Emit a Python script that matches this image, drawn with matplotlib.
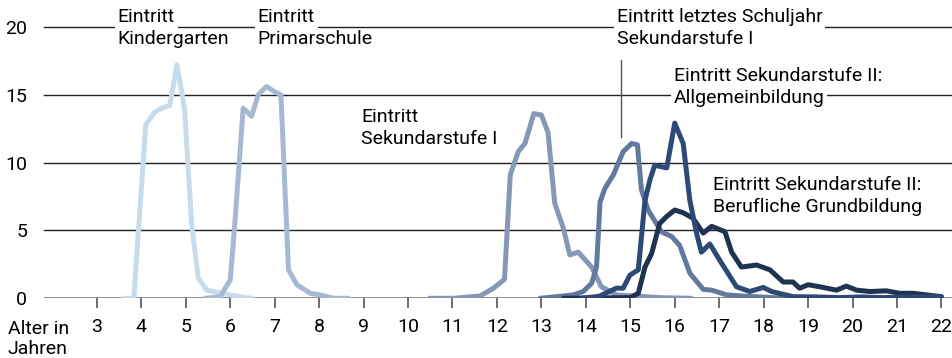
import numpy as np
import matplotlib.pyplot as plt

plt.rcParams['font.family'] = ['Roboto', 'DejaVu Sans']

# Alter (Jahre) und Anteil (%) je Übertritt
kg_x = [3.6, 3.83, 4.1, 4.3, 4.45, 4.64, 4.8, 4.97, 5.13, 5.28, 5.47, 5.75, 6.0, 6.25, 6.48]
kg_y = [0, 0, 12.8, 13.7, 14.0, 14.2, 17.2, 14.0, 5.5, 1.5, 0.6, 0.4, 0.25, 0.1, 0]

ps_x = [5.43, 5.77, 6.0, 6.11, 6.29, 6.48, 6.63, 6.82, 7.0, 7.14, 7.31, 7.5, 7.8, 8.02, 8.32, 8.66]
ps_y = [0, 0.1, 1.35, 5.8, 14.0, 13.4, 15.0, 15.6, 15.2, 15.0, 2.1, 1.0, 0.37, 0.25, 0, 0]

s1_x = [10.49, 11.02, 11.62, 11.92, 12.17, 12.3, 12.48, 12.63, 12.83, 13.0, 13.15, 13.3,
        13.49, 13.64, 13.83, 14.13, 14.35, 14.69, 15.2, 15.66, 16.37]
s1_y = [0, 0, 0.17, 0.74, 1.4, 9.1, 10.8, 11.4, 13.6, 13.5, 12.2, 7.0,
        5.2, 3.2, 3.4, 2.3, 0.85, 0.25, 0.15, 0.05, 0]

lj_x = [12.97, 13.34, 13.72, 13.94, 14.13, 14.24, 14.32, 14.43, 14.62, 14.84, 15.03, 15.16,
        15.25, 15.4, 15.7, 15.93, 16.11, 16.34, 16.64, 16.83, 17.17, 17.6, 18.2, 18.7]
lj_y = [0, 0.12, 0.25, 0.5, 1.1, 2.3, 7.1, 8.1, 9.1, 10.8, 11.4, 11.3,
        8.0, 6.5, 4.9, 4.55, 3.9, 1.85, 0.66, 0.6, 0.25, 0.15, 0.05, 0]

ab_x = [13.9, 14.3, 14.69, 14.84, 14.99, 15.18, 15.33, 15.44, 15.55, 15.82, 16.0, 16.19,
        16.34, 16.49, 16.6, 16.79, 17.05, 17.39, 17.69, 17.99, 18.18, 18.66, 19.2, 19.7,
        20.2, 20.7, 21.2, 21.6, 22.0]
ab_y = [0, 0.15, 0.75, 0.74, 1.7, 2.1, 7.2, 8.7, 9.8, 9.6, 12.9, 11.4,
        7.2, 4.8, 3.4, 4.0, 2.6, 0.85, 0.5, 0.8, 0.5, 0.12, 0.1, 0.05,
        0.1, 0.05, 0.1, 0.1, 0.12]

bg_x = [13.5, 14.2, 15.0, 15.18, 15.33, 15.48, 15.66, 15.81, 16.0, 16.19, 16.41, 16.64,
        16.83, 17.13, 17.28, 17.5, 17.84, 18.14, 18.44, 18.66, 18.81, 19.0, 19.26, 19.64,
        19.86, 20.09, 20.39, 20.76, 21.06, 21.36, 21.66, 22.0]
bg_y = [0, 0.03, 0.05, 0.37, 2.3, 3.3, 5.5, 6.0, 6.5, 6.3, 5.9, 4.8,
        5.3, 4.9, 3.4, 2.3, 2.45, 2.1, 1.2, 1.2, 0.74, 1.0, 0.85, 0.6,
        0.9, 0.6, 0.5, 0.55, 0.37, 0.37, 0.25, 0.12]

series = [
    (kg_x, kg_y, '#c6dbeb'),
    (ps_x, ps_y, '#a7b9d2'),
    (s1_x, s1_y, '#8599b7'),
    (lj_x, lj_y, '#63799d'),
    (bg_x, bg_y, '#1d3350'),
    (ab_x, ab_y, '#2d4a77'),
]

xticks = list(range(3, 23))
yticks = [0, 5, 10, 15, 20]

fig = plt.figure(figsize=(9.53, 3.58), dpi=100)
ax = fig.add_axes([44 / 953, 59.7 / 358, 1 - 44 / 953, 271.6 / 358])
ax.set_xlim(1.81, 22.26)
ax.set_ylim(0, 20)

for yv in yticks[1:]:
    ax.axhline(yv, color='#222222', lw=1.0, zorder=1, clip_on=False)
ax.axhline(0, color='#6e6e6e', lw=1.8, zorder=1)

for xs, ys, col in series:
    ax.plot(xs, ys, color=col, lw=3.6, solid_joinstyle='round',
            solid_capstyle='round', zorder=3)

# Hinweislinie letztes Schuljahr
ax.plot([14.79, 14.79], [11.9, 17.55], color='#555555', lw=1.0, zorder=2)

for s in ax.spines.values():
    s.set_visible(False)
fs = 14
ax.set_xticks(xticks)
ax.set_yticks(yticks)
ax.tick_params(axis='x', length=7, width=1.2, color='#555555', pad=7, labelsize=fs)
ax.tick_params(axis='y', length=0, pad=12, labelsize=fs)

box = dict(facecolor='white', edgecolor='none', pad=2)
labels = [
    (3.47, 20.35, 'Eintritt', True), (3.47, 18.73, 'Kindergarten', False),
    (6.62, 20.35, 'Eintritt', True), (6.62, 18.73, 'Primarschule', False),
    (14.70, 20.35, 'Eintritt letztes Schuljahr', True), (14.70, 18.73, 'Sekundarstufe I', False),
    (8.94, 13.0, 'Eintritt', False), (8.94, 11.36, 'Sekundarstufe I', False),
    (15.98, 16.0, 'Eintritt Sekundarstufe II:', False), (15.98, 14.4, 'Allgemeinbildung', True),
    (16.86, 7.98, 'Eintritt Sekundarstufe II:', False), (16.86, 6.38, 'Berufliche Grundbildung', False),
]
for x, y, t, b in labels:
    ax.text(x, y, t, fontsize=fs, va='baseline', ha='left', zorder=4,
            bbox=box if b else None)

fig.text(8 / 953, 1 - 334 / 358, 'Alter in', fontsize=fs, va='baseline')
fig.text(8 / 953, 1 - 354 / 358, 'Jahren', fontsize=fs, va='baseline')

fig.savefig('out.png', dpi=100)
